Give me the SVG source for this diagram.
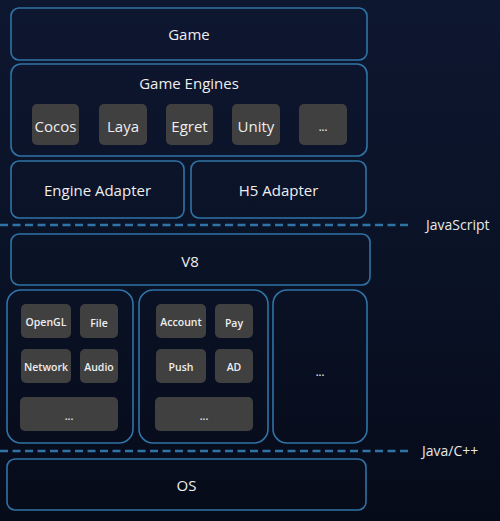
<svg xmlns="http://www.w3.org/2000/svg" width="500" height="521" viewBox="0 0 500 521">
<defs>
<linearGradient id="bg" x1="0" y1="0" x2="0" y2="1">
<stop offset="0" stop-color="#0e1730"/>
<stop offset="0.5" stop-color="#0a1226"/>
<stop offset="1" stop-color="#060b19"/>
</linearGradient>
<style>
.frame{fill:none;stroke:#3073a6;stroke-width:1.6}
.chip{fill:#404040}
.t{font-family:"Open Sans","Noto Sans","Liberation Sans",sans-serif;fill:#eeeeee;text-anchor:middle;dominant-baseline:central}
.big{font-size:15px}
.small{font-size:10.5px;font-weight:600}
.side{font-family:"Open Sans","Noto Sans","Liberation Sans",sans-serif;fill:#e8e8e8;font-size:14px;dominant-baseline:central}
.dash{stroke:#3073a6;stroke-width:2.5;stroke-dasharray:8 4.5;fill:none}
</style>
</defs>
<rect width="500" height="521" fill="url(#bg)"/>
<g id="connectors">
<line class="dash" x1="0" y1="225" x2="412" y2="225"/>
<line class="dash" x1="0" y1="451" x2="408" y2="451"/>
</g>
<g id="label-js"><text class="side" x="426" y="224">JavaScript</text></g>
<g id="label-java"><text class="side" x="422" y="450">Java/C++</text></g>
<g id="game">
<rect class="frame" x="11" y="8" width="356" height="52" rx="8"/>
<text class="t big" x="189" y="34">Game</text>
</g>
<g id="game-engines">
<rect class="frame" x="11" y="64" width="356" height="92" rx="10"/>
<text class="t big" x="189" y="83">Game Engines</text>
<g id="cocos"><rect class="chip" x="32" y="104" width="47" height="41" rx="5"/><text class="t big" x="55.5" y="126">Cocos</text></g>
<g id="laya"><rect class="chip" x="99" y="104" width="48" height="41" rx="5"/><text class="t big" x="123" y="126">Laya</text></g>
<g id="egret"><rect class="chip" x="166" y="104" width="47" height="41" rx="5"/><text class="t big" x="189.5" y="126">Egret</text></g>
<g id="unity"><rect class="chip" x="232" y="104" width="48" height="41" rx="5"/><text class="t big" x="256" y="126">Unity</text></g>
<g id="more-engines"><rect class="chip" x="299" y="104" width="48" height="41" rx="5"/><text class="t small" x="323" y="127">...</text></g>
</g>
<g id="engine-adapter">
<rect class="frame" x="11" y="161" width="173" height="57" rx="8"/>
<text class="t big" x="97.5" y="190">Engine Adapter</text>
</g>
<g id="h5-adapter">
<rect class="frame" x="191" y="161" width="175" height="57" rx="8"/>
<text class="t big" x="278.5" y="190">H5 Adapter</text>
</g>
<g id="v8">
<rect class="frame" x="11" y="234" width="359" height="51" rx="8"/>
<text class="t big" x="190" y="261">V8</text>
</g>
<g id="native-group-1">
<rect class="frame" x="7" y="290" width="126" height="153" rx="14"/>
<g id="opengl"><rect class="chip" x="21" y="304" width="50" height="34" rx="5"/><text class="t small" x="46" y="322">OpenGL</text></g>
<g id="file"><rect class="chip" x="80" y="304" width="38" height="34" rx="5"/><text class="t small" x="99" y="323">File</text></g>
<g id="network"><rect class="chip" x="21" y="349" width="50" height="34" rx="5"/><text class="t small" x="46" y="367">Network</text></g>
<g id="audio"><rect class="chip" x="80" y="349" width="38" height="34" rx="5"/><text class="t small" x="99" y="367">Audio</text></g>
<g id="more-1"><rect class="chip" x="20" y="397" width="98" height="34" rx="5"/><text class="t small" x="69" y="416">...</text></g>
</g>
<g id="native-group-2">
<rect class="frame" x="139" y="290" width="129" height="153" rx="14"/>
<g id="account"><rect class="chip" x="156" y="304" width="50" height="34" rx="5"/><text class="t small" x="181" y="322">Account</text></g>
<g id="pay"><rect class="chip" x="215" y="304" width="38" height="34" rx="5"/><text class="t small" x="234" y="323">Pay</text></g>
<g id="push"><rect class="chip" x="156" y="349" width="50" height="34" rx="5"/><text class="t small" x="181" y="367">Push</text></g>
<g id="ad"><rect class="chip" x="215" y="349" width="38" height="34" rx="5"/><text class="t small" x="234" y="367">AD</text></g>
<g id="more-2"><rect class="chip" x="155" y="397" width="98" height="34" rx="5"/><text class="t small" x="204" y="416">...</text></g>
</g>
<g id="native-group-3">
<rect class="frame" x="273" y="290" width="94" height="153" rx="14"/>
<text class="t small" x="320" y="372">...</text>
</g>
<g id="os">
<rect class="frame" x="7" y="459" width="359" height="51" rx="8"/>
<text class="t big" x="186.5" y="485">OS</text>
</g>
</svg>
